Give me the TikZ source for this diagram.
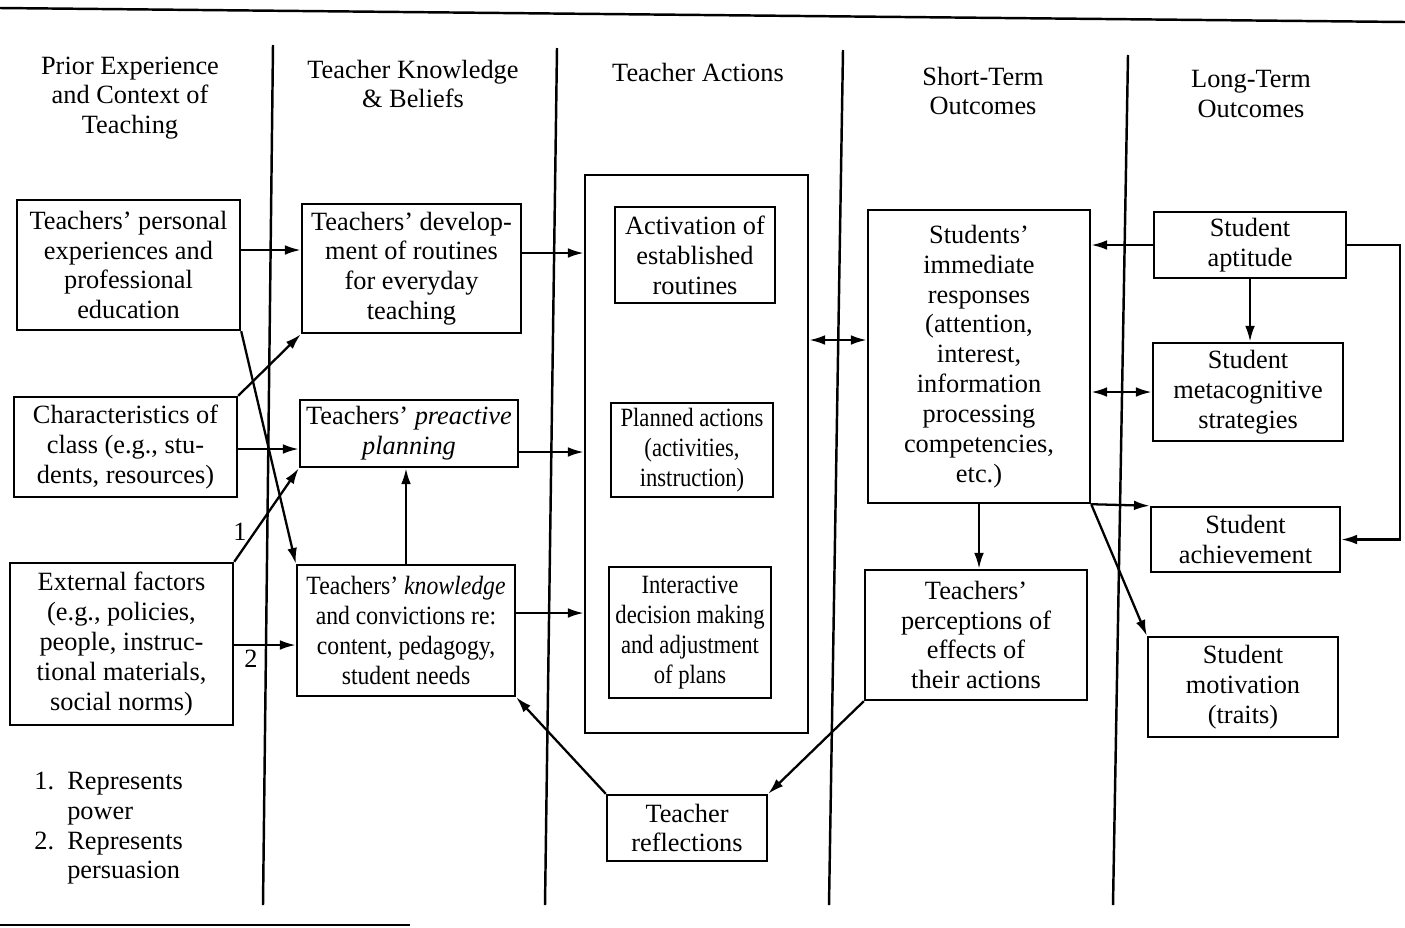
\documentclass[tikz,border=0pt]{standalone}
\usepackage{fontspec}
\setmainfont{Liberation Serif}
\usetikzlibrary{arrows.meta}

\begin{document}
\begin{tikzpicture}[
x=0.02cm,y=-0.02cm,
txt/.style={align=center,inner sep=0pt,font=\fontsize{15}{17}\selectfont},
box/.style={txt,draw,line width=1.4pt},
narrow/.style={font=\fontsize{15}{17}\selectfont\addfontfeature{FakeStretch=0.86}},
sep/.style={line width=1.4pt},
arr/.style={line width=1.3pt,-{Latex[length=9pt,width=5.5pt]}},
both/.style={line width=1.3pt,{Latex[length=9pt,width=5.5pt]}-{Latex[length=9pt,width=5.5pt]}},
]
\useasboundingbox (0,0) rectangle (1405,927);
% rules and column separators
\draw[sep] (0,8) -- (1405,22);
\draw[sep] (0,925) -- (410,925);
\draw[sep] (273,45) -- (263,905);
\draw[sep] (557,48) -- (545,905);
\draw[sep] (843,50) -- (829,905);
\draw[sep] (1128,55) -- (1113,905);
% column heads
\node[txt] (hprior) at (130,98) {Prior Experience\\and Context of\\Teaching};
\node[txt] (hknow) at (413,84) {Teacher Knowledge\\\& Beliefs};
\node[txt] (hact) at (698,72) {Teacher Actions};
\node[txt] (hshort) at (983,91) {Short-Term\\Outcomes};
\node[txt] (hlong) at (1251,94) {Long-Term\\Outcomes};
% prior experience
\node[box,minimum width=4.46cm,minimum height=2.6cm] (pers) at (128.5,265)
  {Teachers' personal\\experiences and\\professional\\education};
\node[box,minimum width=4.46cm,minimum height=2.0cm] (cls) at (125.5,447)
  {Characteristics of\\class (e.g., stu-\\dents, resources)};
\node[box,minimum width=4.46cm,minimum height=3.24cm] (ext) at (121.5,644)
  {External factors\\(e.g., policies,\\people, instruc-\\tional materials,\\social norms)};
% knowledge and beliefs
\node[box,minimum width=4.38cm,minimum height=2.58cm] (routdev) at (411.5,268.5)
  {Teachers' develop-\\ment of routines\\for everyday\\teaching};
\node[box,minimum width=4.36cm,minimum height=1.34cm] (plan) at (409,433.5)
  {Teachers' \textit{preactive}\\\textit{planning}};
\node[box,minimum width=4.36cm,minimum height=2.62cm,font=\fontsize{15}{17}\selectfont\addfontfeature{FakeStretch=0.9}] (know) at (406,630.5)
  {Teachers' \textit{knowledge}\\and convictions re:\\content, pedagogy,\\student needs};
% actions
\node[box,minimum width=4.46cm,minimum height=11.16cm] (actions) at (696.5,454) {};
\node[box,minimum width=3.2cm,minimum height=1.92cm] (activ) at (695,255)
  {Activation of\\established\\routines};
\node[box,narrow,minimum width=3.24cm,minimum height=1.88cm] (planned) at (692,450)
  {Planned actions\\(activities,\\instruction)};
\node[box,narrow,minimum width=3.24cm,minimum height=2.62cm] (interact) at (690,632.5)
  {Interactive\\decision making\\and adjustment\\of plans};
\node[box,minimum width=3.2cm,minimum height=1.32cm] (reflect) at (687,828)
  {Teacher\\reflections};
% short-term outcomes
\node[box,minimum width=4.44cm,minimum height=5.86cm] (resp) at (979,356.5)
  {Students'\\immediate\\responses\\(attention,\\interest,\\information\\processing\\competencies,\\etc.)};
\node[box,minimum width=4.44cm,minimum height=2.6cm] (percep) at (976,635)
  {Teachers'\\perceptions of\\effects of\\their actions};
% long-term outcomes
\node[box,minimum width=3.84cm,minimum height=1.32cm] (apt) at (1250,245)
  {Student\\aptitude};
\node[box,minimum width=3.8cm,minimum height=1.96cm] (meta) at (1248,392)
  {Student\\metacognitive\\strategies};
\node[box,minimum width=3.78cm,minimum height=1.3cm] (achieve) at (1245.5,539.5)
  {Student\\achievement};
\node[box,minimum width=3.8cm,minimum height=2.0cm] (motiv) at (1243,687)
  {Student\\motivation\\(traits)};
% labels
\node[txt] (one) at (240,532) {1};
\node[txt] (two) at (251,659) {2};
\node[txt,anchor=north west,align=left] (legend) at (34,768)
  {\begin{tabular}{@{}l@{\ \ }l@{}}1. & Represents\\ & power\\2. & Represents\\ & persuasion\end{tabular}};
\coordinate (loop) at (1400,400);
% connectors
\draw[arr] (pers.east |- 0,250) -- (routdev.west |- 0,250);
\draw[arr] (pers.south east) -- (know.north west);
\draw[arr] (cls.north east) -- (routdev.south west);
\draw[arr] (cls.east |- 0,449) -- (plan.west |- 0,449);
\draw[arr] (ext.north east) -- (plan.south west);
\draw[arr] (ext.east |- 0,645) -- (know.west |- 0,645);
\draw[arr] (routdev.east |- 0,253) -- (actions.west |- 0,253);
\draw[arr] (plan.east |- 0,452) -- (actions.west |- 0,452);
\draw[arr] (know.east |- 0,613) -- (actions.west |- 0,613);
\draw[arr] (know.north) -- (know.north |- plan.south);
\draw[both] (actions.east |- 0,340) -- (resp.west |- 0,340);
\draw[arr] (resp.south) -- (resp.south |- percep.north);
\draw[arr] (resp.south east) -- (achieve.north west);
\draw[arr] (resp.south east) -- (motiv.north west);
\draw[arr] (apt.west) -- (apt.west -| resp.east);
\draw[arr] (apt.south) -- (apt.south |- meta.north);
\draw[both] (resp.east |- meta.west) -- (meta.west);
\draw[arr] (apt.east) -| (loop) |- (achieve.east);
\draw[arr] (percep.south west) -- (reflect.north east);
\draw[arr] (reflect.north west) -- (know.south east);
\end{tikzpicture}
\end{document}
